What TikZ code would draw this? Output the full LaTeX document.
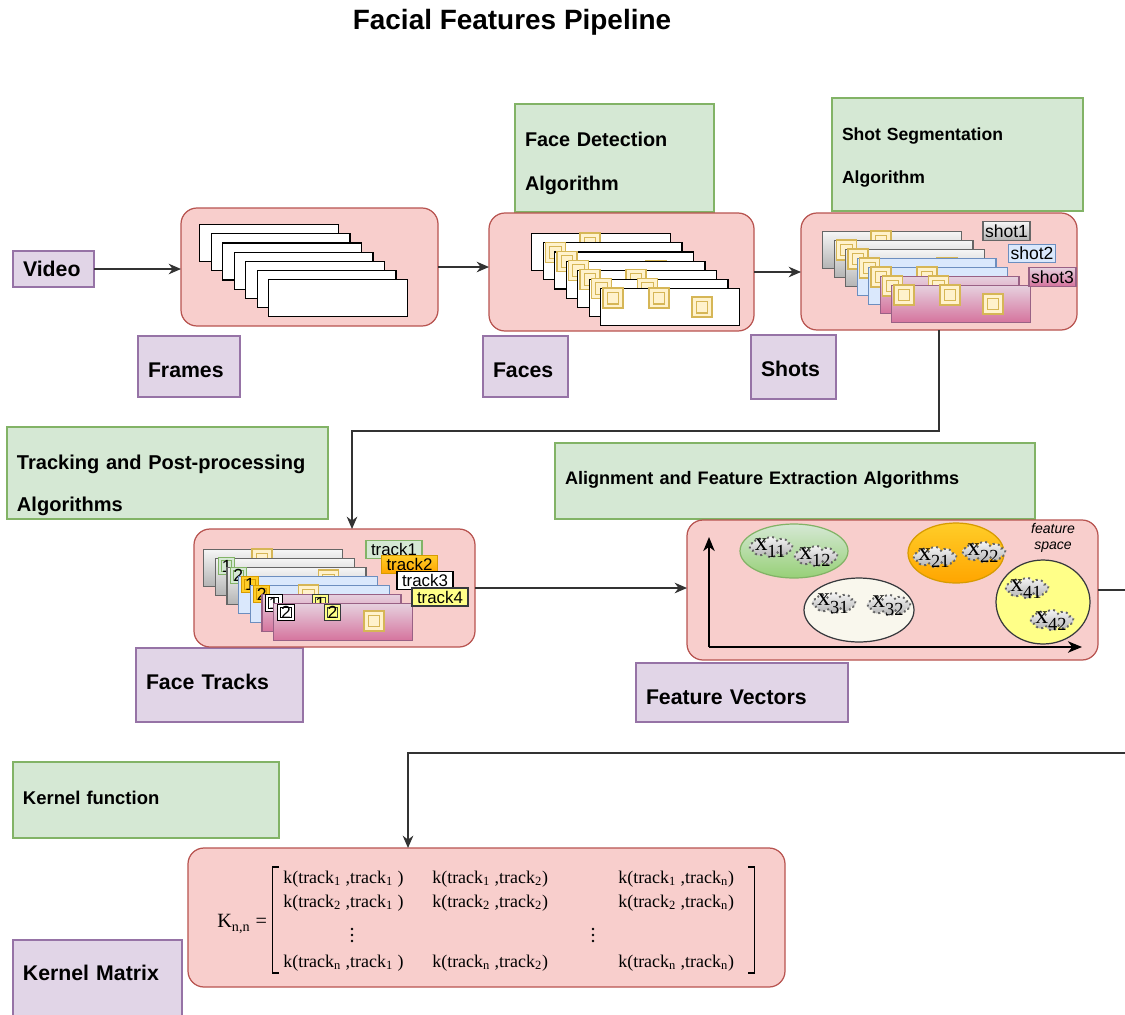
\documentclass[tikz,border=0pt]{standalone}
\usepackage{fontspec}
\setmainfont{Liberation Sans}
\newfontfamily\seriffont{Liberation Serif}
\usetikzlibrary{shapes.geometric,shapes.symbols,arrows.meta,calc}
\definecolor{redfill}{HTML}{F8CECC}
\definecolor{redline}{HTML}{B85450}
\definecolor{purfill}{HTML}{E1D5E7}
\definecolor{purline}{HTML}{9673A6}
\definecolor{grnfill}{HTML}{D5E8D4}
\definecolor{grnline}{HTML}{82B366}
\definecolor{grndark}{HTML}{97D077}
\definecolor{yelfill}{HTML}{FFF2CC}
\definecolor{yelline}{HTML}{D6B656}
\definecolor{graytop}{HTML}{F5F5F5}
\definecolor{graybot}{HTML}{B3B3B3}
\definecolor{grayline}{HTML}{666666}
\definecolor{bluefill}{HTML}{DAE8FC}
\definecolor{blueline}{HTML}{6C8EBF}
\definecolor{pinktop}{HTML}{E6D0DE}
\definecolor{pinkbot}{HTML}{D5739D}
\definecolor{pinkline}{HTML}{996185}
\definecolor{ortop}{HTML}{FFCD28}
\definecolor{orbot}{HTML}{FFA500}
\definecolor{orline}{HTML}{D79B00}
\definecolor{notefill}{HTML}{FFFF88}
\definecolor{noteline}{HTML}{36393D}
\definecolor{creamfill}{HTML}{F9F7ED}

% box from (x1,y1) to (x2,y2) in pixels, text placed with a vertical offset dy
\newcommand\diabox[9]{%
  \pgfmathsetmacro\dbw{(#5-#3)*0.02}%
  \pgfmathsetmacro\dbh{(#6-#4)*0.02}%
  \pgfmathsetmacro\dbt{(#5-#3-20)*0.02}%
  \node[#2, minimum width=\dbw cm, minimum height=\dbh cm] (#1) at ({(#3+#5)/2},{(#4+#6)/2}) {};
  \node[#7, text width=\dbt cm] (#1-t) at ({(#3+#5)/2},{(#4+#6)/2+#8}) {#9};}
\newcommand\xsub[2]{#1\raisebox{-0.3em}{\fontsize{10.5}{10}\selectfont #2}}

\tikzset{
  conn/.style={draw=black!80, line width=0.85pt, -{Stealth[length=7pt,width=6pt,inset=2.2pt]}},
  axis/.style={draw=black, line width=1pt, -{Stealth[length=8pt,width=6.5pt,inset=2.4pt]}},
  redbox/.style={draw=redline, fill=redfill, rounded corners=0.32cm, line width=0.7pt, inner sep=0pt, outer sep=0pt},
  purbox/.style={draw=purline, fill=purfill, line width=0.7pt, inner sep=0pt, outer sep=0pt},
  grnbox/.style={draw=grnline, fill=grnfill, line width=0.7pt, inner sep=0pt, outer sep=0pt},
  labtext/.style={inner sep=0pt, align=left, font=\bfseries\fontsize{12.1}{14}\selectfont},
  algtext/.style={inner sep=0pt, align=left, font=\bfseries\fontsize{11.3}{25}\selectfont},
  pane/.style={draw=black, fill=white, line width=0.75pt, minimum width=2.78cm, minimum height=0.74cm, inner sep=0pt, anchor=north west},
  pgray/.style={draw=grayline, top color=graytop, bottom color=graybot},
  pblue/.style={draw=blueline, fill=bluefill},
  ppink/.style={draw=pinkline, top color=pinktop, bottom color=pinkbot},
  face/.style={draw=yelline, fill=yelfill, line width=0.6pt, minimum size=0.4cm, inner sep=0pt,
    path picture={\draw[yelline, line width=0.6pt] ([shift={(2.3pt,2.3pt)}]path picture bounding box.south west) rectangle ([shift={(-2.3pt,-2.3pt)}]path picture bounding box.north east);}},
  numbox/.style={draw=#1, line width=0.55pt, minimum size=0.33cm, inner sep=0pt, font=\fontsize{10}{10}\selectfont,
    path picture={\draw[#1, line width=0.55pt] ([shift={(1.8pt,1.8pt)}]path picture bounding box.south west) rectangle ([shift={(-1.8pt,-1.8pt)}]path picture bounding box.north east);}},
  ngreen/.style={numbox=grnline, fill=grnfill},
  norange/.style={numbox=orline, fill=ortop},
  nwhite/.style={numbox=black, fill=white},
  nyellow/.style={numbox=noteline, fill=notefill},
  tag/.style={inner sep=0pt, line width=0.6pt, font=\fontsize{10}{10}\selectfont, minimum height=0.37cm, minimum width=0.94cm},
  ttag/.style={tag, font=\fontsize{9.6}{9.6}\selectfont, minimum width=1.12cm, minimum height=0.36cm},
  blob/.style={ellipse, line width=0.7pt, inner sep=0pt},
  pt/.style={cloud, cloud puffs=10, aspect=2.1, draw=grayline, dotted, line width=1.1pt, top color=graytop, bottom color=graybot, minimum width=0.86cm, minimum height=0.42cm, inner sep=0pt},
  xl/.style={font=\seriffont\fontsize{14.5}{14}\selectfont, inner sep=0pt},
  mtx/.style={font=\seriffont\fontsize{10.2}{11}\selectfont, inner sep=0pt, anchor=west},
  vdot/.style={fill=black, inner sep=0pt, minimum size=1.5pt, circle},
}

\begin{document}
\begin{tikzpicture}[x=0.02cm, y=-0.02cm]
\useasboundingbox (0,0) rectangle (1125,1014);
\clip (0,0) rectangle (1125,1014);
\fill[white] (0,0) rectangle (1125,1014);

% title
\node[font=\bfseries\fontsize{15.9}{18}\selectfont] (title) at (512,22) {Facial Features Pipeline};

% green algorithm boxes
\diabox{fdet}{grnbox}{515}{104}{714}{212}{algtext}{5}{Face Detection\\Algorithm}
\diabox{sseg}{grnbox}{832}{98}{1083}{211}{algtext,font=\bfseries\fontsize{10}{25}\selectfont}{3}{Shot Segmentation\\Algorithm}
\diabox{talg}{grnbox}{7}{427}{328}{519}{algtext,font=\bfseries\fontsize{11.4}{23.8}\selectfont}{12}{Tracking and Post-processing\\Algorithms}
\diabox{aalg}{grnbox}{555}{443}{1035}{519}{algtext,font=\bfseries\fontsize{10.3}{12}\selectfont}{-1}{Alignment and Feature Extraction Algorithms}
\diabox{kfun}{grnbox}{13}{762}{279}{838}{algtext,font=\bfseries\fontsize{10.5}{12}\selectfont}{-2}{Kernel function}

% purple labels
\diabox{video}{purbox}{13}{251}{94}{287}{labtext}{0}{Video}
\diabox{frlab}{purbox}{138}{336}{240}{397}{labtext}{4}{Frames}
\diabox{falab}{purbox}{483}{336}{568}{397}{labtext}{4}{Faces}
\diabox{shlab}{purbox}{751}{335}{836}{399}{labtext}{2}{Shots}
\diabox{ftlab}{purbox}{136}{648}{303}{722}{labtext}{-3}{Face Tracks}
\diabox{fvlab}{purbox}{636}{663}{848}{722}{labtext}{5}{Feature Vectors}
\diabox{kmlab}{purbox}{13}{940}{182}{1030}{labtext}{-12}{Kernel Matrix}

% red stage boxes
\diabox{frames}{redbox}{181}{208}{438}{326}{inner sep=0pt}{0}{}
\diabox{faces}{redbox}{489}{213}{754}{331}{inner sep=0pt}{0}{}
\diabox{shots}{redbox}{801}{213}{1077}{330}{inner sep=0pt}{0}{}
\diabox{tracks}{redbox}{194}{529}{475}{647}{inner sep=0pt}{0}{}
\diabox{feat}{redbox}{687}{520}{1098}{660}{inner sep=0pt}{0}{}
\diabox{kernel}{redbox}{188}{848}{785}{987}{inner sep=0pt}{0}{}

% frames stack
\foreach \k in {0,...,6}
  \node[pane] (fa\k) at ({199+11.5*\k},{224+9.17*\k}) {};

% faces stack (a, b, c: the three face positions in a frame)
\foreach \k/\sqs in {0/{b/59/10},1/{a/13/10},2/{a/13/10,c/102/19},3/{a/13/10},4/{a/13/10,b/59/10},5/{a/13/10,b/59/10},6/{a/13/10,b/59/10,c/102/19}}{
  \node[pane] (fb\k) at ({531+11.5*\k},{233+9.17*\k}) {};
  \foreach \s/\dx/\dy in \sqs
    \node[face] (fb\k\s) at ($(fb\k.north west)+(\dx,\dy)$) {};
}

% shots stack
\foreach \k/\st/\sqs in {0/pgray/{b/59/10},1/pgray/{a/13/10},2/pgray/{a/13/10,c/102/19},3/pblue/{a/13/10},4/pblue/{a/13/10,b/59/10},5/ppink/{a/13/10,b/59/10},6/ppink/{a/13/10,b/59/10,c/102/19}}{
  \node[pane,\st] (fc\k) at ({822+11.5*\k},{231+9*\k}) {};
  \foreach \s/\dx/\dy in \sqs
    \node[face] (fc\k\s) at ($(fc\k.north west)+(\dx,\dy)$) {};
}
\node[tag,pgray] (shot1) at (1006.5,231) {shot1};
\node[tag,pblue] (shot2) at (1032,253.5) {shot2};
\node[tag,ppink] (shot3) at (1052.5,277) {shot3};

% face tracks stack
\node[pane,pgray] (t0) at (203,549) {};
\node[face] (t0b) at ($(t0.north west)+(59,10)$) {};
\node[pane,pgray] (t1) at (214.7,558) {};
\node[ngreen] (t1a) at ($(t1.north west)+(12,8)$) {1};
\node[pane,pgray] (t2) at (226.3,567) {};
\node[ngreen] (t2a) at ($(t2.north west)+(12,8.5)$) {2};
\node[face] (t2c) at ($(t2.north west)+(102,13)$) {};
\node[pane,pblue] (t3) at (238,576) {};
\node[norange] (t3a) at ($(t3.north west)+(12,8.5)$) {1};
\node[pane,pblue] (t4) at (249.7,585) {};
\node[norange] (t4a) at ($(t4.north west)+(12,9)$) {2};
\node[face] (t4b) at ($(t4.north west)+(59,10)$) {};
\node[pane,ppink] (t5) at (261.3,594) {};
\node[nwhite] (t5a) at ($(t5.north west)+(12.5,9)$) {1};
\node[nyellow] (t5b) at ($(t5.north west)+(59,9)$) {1};
\node[pane,ppink] (t6) at (273,603) {};
\node[nwhite] (t6a) at ($(t6.north west)+(13,9.5)$) {2};
\node[nyellow] (t6b) at ($(t6.north west)+(59.5,9.5)$) {2};
\node[face] (t6c) at ($(t6.north west)+(101,18)$) {};
\node[ttag,draw=grnline,fill=grnfill] (track1) at (394,549.5) {track1};
\node[ttag,draw=orline,top color=ortop,bottom color=orbot] (track2) at (409.5,564.5) {track2};
\node[ttag,draw=black,fill=white] (track3) at (425,580.5) {track3};
\node[ttag,draw=noteline,fill=notefill] (track4) at (440,597) {track4};

% feature space
\coordinate (origin) at (709,647);
\coordinate (ytip) at (709,537);
\coordinate (xtip) at (1082,647);
\draw[axis] (origin) -- (ytip);
\draw[axis] (origin) -- (xtip);
\node[blob,draw=grnline,top color=grnfill,bottom color=grndark,minimum width=2.16cm,minimum height=1.08cm] (e1) at (794,551) {};
\node[blob,draw=orline,top color=ortop,bottom color=orbot,minimum width=1.92cm,minimum height=1.2cm] (e2) at (956,553) {};
\node[blob,draw=noteline,fill=creamfill,minimum width=2.2cm,minimum height=1.28cm] (e3) at (859,610) {};
\node[blob,draw=noteline,fill=notefill,minimum width=1.88cm,minimum height=1.68cm] (e4) at (1043,602) {};
\node[font=\itshape\fontsize{8}{9}\selectfont, align=center, inner sep=0pt] (fspace) at (1053,538) {feature\\space};

\node[pt] (c11) at (771,547) {};
\node[xl] (x11) at (770,548) {\xsub{x}{11}};
\node[pt] (c12) at (816,556) {};
\node[xl] (x12) at (815,557) {\xsub{x}{12}};
\node[pt] (c21) at (935,557) {};
\node[xl] (x21) at (934,558) {\xsub{x}{21}};
\node[pt] (c22) at (984,552) {};
\node[xl] (x22) at (983,553) {\xsub{x}{22}};
\node[pt] (c31) at (834,603) {};
\node[xl] (x31) at (833,604) {\xsub{x}{31}};
\node[pt] (c32) at (889,605) {};
\node[xl] (x32) at (888,606) {\xsub{x}{32}};
\node[pt] (c41) at (1027,588) {};
\node[xl] (x41) at (1026,589) {\xsub{x}{41}};
\node[pt] (c42) at (1052,620) {};
\node[xl] (x42) at (1051,621) {\xsub{x}{42}};

% kernel matrix
\node[mtx, font=\seriffont\fontsize{11.5}{12}\selectfont] (kk) at (217,924) {K\textsubscript{n,n} =};
\draw[line width=1.1pt] (279,867) -- (272.5,867) -- (272.5,973) -- (279,973);
\draw[line width=1.1pt] (748,867) -- (754.5,867) -- (754.5,973) -- (748,973);
\node[mtx] (m11) at (283,879) {k(track\textsubscript{1} ,track\textsubscript{1} )};
\node[mtx] (m12) at (432,879) {k(track\textsubscript{1} ,track\textsubscript{2})};
\node[mtx] (m13) at (618,879) {k(track\textsubscript{1} ,track\textsubscript{n})};
\node[mtx] (m21) at (283,903) {k(track\textsubscript{2} ,track\textsubscript{1} )};
\node[mtx] (m22) at (432,903) {k(track\textsubscript{2} ,track\textsubscript{2})};
\node[mtx] (m23) at (618,903) {k(track\textsubscript{2} ,track\textsubscript{n})};
\foreach \i/\dy in {1/-6,2/0,3/6}{
  \node[vdot] (da\i) at (352,935+\dy) {};
  \node[vdot] (db\i) at (593,935+\dy) {};
}
\node[mtx] (m41) at (283,963) {k(track\textsubscript{n} ,track\textsubscript{1} )};
\node[mtx] (m42) at (432,963) {k(track\textsubscript{n} ,track\textsubscript{2})};
\node[mtx] (m43) at (618,963) {k(track\textsubscript{n} ,track\textsubscript{n})};

% connectors
\draw[conn] (video.east) -- (video.east -| frames.west);
\draw[conn] (frames.east) -- (frames.east -| faces.west);
\draw[conn] (faces.east) -- (faces.east -| shots.west);
\coordinate (b1) at (352,431);
\draw[conn] (shots.south) |- (b1) -- (b1 |- tracks.north);
\draw[conn] (tracks.east) -- (tracks.east -| feat.west);
\coordinate (b2) at (1140,753);
\coordinate (b3) at (408,753);
\draw[conn] (feat.east) -| (b2) -- (b3) -- (b3 |- kernel.north);
\end{tikzpicture}
\end{document}
